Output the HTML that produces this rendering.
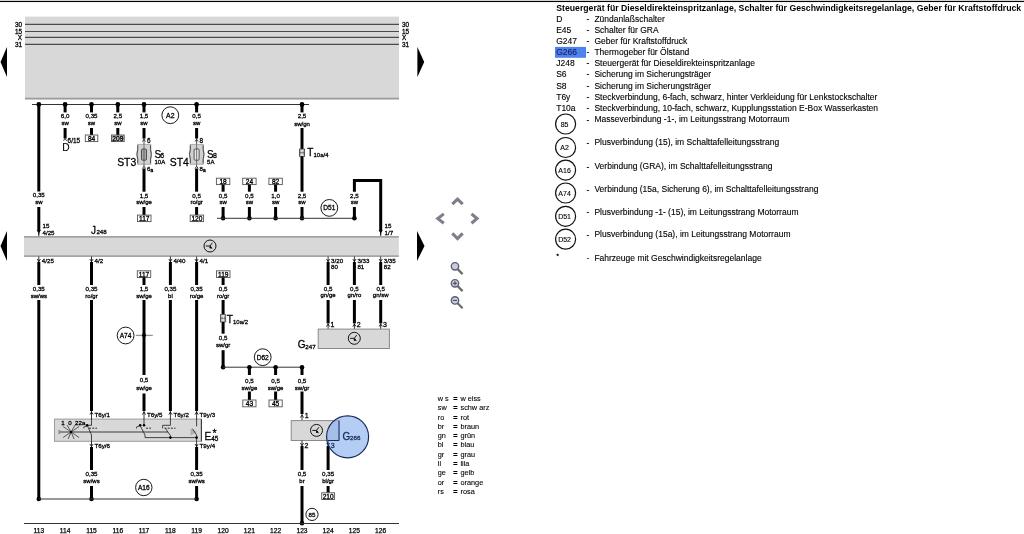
<!DOCTYPE html>
<html><head><meta charset="utf-8"><style>
html,body{margin:0;padding:0;background:#fff;overflow:hidden}
svg{display:block;font-family:"Liberation Sans", sans-serif;will-change:transform}
</style></head><body>
<svg width="1024" height="534" viewBox="0 0 1024 534">
<rect x="0" y="0" width="1024" height="1" fill="#d4d4d4" stroke="none" stroke-width="1"/>
<rect x="0" y="1" width="1024" height="1.05" fill="#000" stroke="none" stroke-width="1"/>
<rect x="25" y="16.6" width="374" height="82.5" fill="#d8d8d8" stroke="none" stroke-width="1"/>
<line x1="25" y1="98.6" x2="399" y2="98.6" stroke="#9a9a9a" stroke-width="1.6" stroke-linecap="butt"/>
<line x1="25" y1="24.4" x2="399" y2="24.4" stroke="#4a4a4a" stroke-width="1.1" stroke-linecap="butt"/>
<text x="22" y="26.7" font-size="6.4" text-anchor="end" font-weight="normal" fill="#000" stroke="#000" stroke-width="0.28" >30</text>
<text x="402" y="26.7" font-size="6.4" text-anchor="start" font-weight="normal" fill="#000" stroke="#000" stroke-width="0.28" >30</text>
<line x1="25" y1="31.5" x2="399" y2="31.5" stroke="#4a4a4a" stroke-width="1.1" stroke-linecap="butt"/>
<text x="22" y="33.8" font-size="6.4" text-anchor="end" font-weight="normal" fill="#000" stroke="#000" stroke-width="0.28" >15</text>
<text x="402" y="33.8" font-size="6.4" text-anchor="start" font-weight="normal" fill="#000" stroke="#000" stroke-width="0.28" >15</text>
<line x1="25" y1="37.4" x2="399" y2="37.4" stroke="#4a4a4a" stroke-width="1.1" stroke-linecap="butt"/>
<text x="22" y="39.7" font-size="6.4" text-anchor="end" font-weight="normal" fill="#000" stroke="#000" stroke-width="0.28" >X</text>
<text x="402" y="39.7" font-size="6.4" text-anchor="start" font-weight="normal" fill="#000" stroke="#000" stroke-width="0.28" >X</text>
<line x1="25" y1="44.4" x2="399" y2="44.4" stroke="#4a4a4a" stroke-width="1.1" stroke-linecap="butt"/>
<text x="22" y="46.7" font-size="6.4" text-anchor="end" font-weight="normal" fill="#000" stroke="#000" stroke-width="0.28" >31</text>
<text x="402" y="46.7" font-size="6.4" text-anchor="start" font-weight="normal" fill="#000" stroke="#000" stroke-width="0.28" >31</text>
<path d="M0.5,62 L7.0,47.1 L7.0,76.9 Z" fill="#000"/>
<path d="M424.2,62 L417.4,47.1 L417.4,76.9 Z" fill="#000"/>
<line x1="32" y1="104.5" x2="309" y2="104.5" stroke="#333" stroke-width="1" stroke-linecap="butt"/>
<circle cx="38.8" cy="104.5" r="2.4" fill="#000"/>
<line x1="38.8" y1="104.5" x2="38.8" y2="191.5" stroke="#000" stroke-width="3.0" stroke-linecap="butt"/>
<text x="38.8" y="197.13" font-size="6.2" text-anchor="middle" font-weight="normal" fill="#000" stroke="#000" stroke-width="0.28" >0,35</text>
<text x="38.8" y="203.78" font-size="6.0" text-anchor="middle" font-weight="normal" fill="#000" stroke="#000" stroke-width="0.3" >sw</text>
<line x1="38.8" y1="207" x2="38.8" y2="230.5" stroke="#000" stroke-width="3.0" stroke-linecap="butt"/>
<line x1="38.8" y1="230.5" x2="38.8" y2="236.5" stroke="#000" stroke-width="0.8" stroke-linecap="butt"/>
<path d="M37.3,230.4 L38.8,232.6 L40.3,230.4 Z M38.8,232 L38.8,234.6" fill="#000" stroke="#000" stroke-width="1"/>
<text x="42.5" y="228.03" font-size="6.2" text-anchor="start" font-weight="normal" fill="#000" stroke="#000" stroke-width="0.28" >15</text>
<text x="42.5" y="234.53" font-size="6.2" text-anchor="start" font-weight="normal" fill="#000" stroke="#000" stroke-width="0.28" >4/25</text>
<circle cx="65.1" cy="104.5" r="2.4" fill="#000"/>
<line x1="65.1" y1="104.5" x2="65.1" y2="112.4" stroke="#000" stroke-width="3.0" stroke-linecap="butt"/>
<text x="65.1" y="118.23" font-size="6.2" text-anchor="middle" font-weight="normal" fill="#000" stroke="#000" stroke-width="0.28" >6,0</text>
<text x="65.1" y="125.18" font-size="6.0" text-anchor="middle" font-weight="normal" fill="#000" stroke="#000" stroke-width="0.3" >sw</text>
<line x1="65.1" y1="128" x2="65.1" y2="138.6" stroke="#000" stroke-width="3.0" stroke-linecap="butt"/>
<path d="M63.49999999999999,140.8 Q65.1,137.4 66.69999999999999,140.8" fill="none" stroke="#000" stroke-width="0.8"/>
<text x="67.6" y="142.9" font-size="6.4" text-anchor="start" font-weight="normal" fill="#000" stroke="#000" stroke-width="0.28" >6/15</text>
<text x="62.3" y="151.27" font-size="10.2" text-anchor="start" font-weight="normal" fill="#000" stroke="#000" stroke-width="0.1" >D</text>
<circle cx="91.5" cy="104.5" r="2.4" fill="#000"/>
<line x1="91.5" y1="104.5" x2="91.5" y2="112.4" stroke="#000" stroke-width="3.0" stroke-linecap="butt"/>
<text x="91.5" y="118.23" font-size="6.2" text-anchor="middle" font-weight="normal" fill="#000" stroke="#000" stroke-width="0.28" >0,35</text>
<text x="91.5" y="125.18" font-size="6.0" text-anchor="middle" font-weight="normal" fill="#000" stroke="#000" stroke-width="0.3" >sw</text>
<line x1="91.5" y1="128" x2="91.5" y2="135" stroke="#000" stroke-width="3.0" stroke-linecap="butt"/>
<rect x="85.3" y="135" width="12.5" height="6.599999999999994" fill="#fff" stroke="#555" stroke-width="0.9"/>
<text x="91.55" y="140.78" font-size="6.6" text-anchor="middle" font-weight="normal" fill="#000" stroke="#000" stroke-width="0.3" >84</text>
<circle cx="117.8" cy="104.5" r="2.4" fill="#000"/>
<line x1="117.8" y1="104.5" x2="117.8" y2="112.4" stroke="#000" stroke-width="3.0" stroke-linecap="butt"/>
<text x="117.8" y="118.23" font-size="6.2" text-anchor="middle" font-weight="normal" fill="#000" stroke="#000" stroke-width="0.28" >2,5</text>
<text x="117.8" y="125.18" font-size="6.0" text-anchor="middle" font-weight="normal" fill="#000" stroke="#000" stroke-width="0.3" >sw</text>
<line x1="117.8" y1="128" x2="117.8" y2="135" stroke="#000" stroke-width="3.0" stroke-linecap="butt"/>
<rect x="111.5" y="135" width="12.700000000000003" height="6.599999999999994" fill="#c6c6c6" stroke="#555" stroke-width="0.9"/>
<text x="117.85" y="140.78" font-size="6.6" text-anchor="middle" font-weight="normal" fill="#000" stroke="#000" stroke-width="0.3" >209</text>
<circle cx="144.0" cy="104.5" r="2.4" fill="#000"/>
<line x1="144.0" y1="104.5" x2="144.0" y2="112.4" stroke="#000" stroke-width="3.0" stroke-linecap="butt"/>
<text x="144.0" y="118.23" font-size="6.2" text-anchor="middle" font-weight="normal" fill="#000" stroke="#000" stroke-width="0.28" >1,5</text>
<text x="144.0" y="125.18" font-size="6.0" text-anchor="middle" font-weight="normal" fill="#000" stroke="#000" stroke-width="0.3" >sw</text>
<line x1="144.0" y1="128" x2="144.0" y2="138.6" stroke="#000" stroke-width="3.0" stroke-linecap="butt"/>
<line x1="144.0" y1="138.6" x2="144.0" y2="166" stroke="#000" stroke-width="0.7" stroke-linecap="butt"/>
<path d="M142.5,141.6 L144.0,139.2 L145.5,141.6" fill="none" stroke="#000" stroke-width="0.7"/>
<text x="147.0" y="142.6" font-size="6.4" text-anchor="start" font-weight="normal" fill="#000" stroke="#000" stroke-width="0.28" >6</text>
<path d="M137.5,144.4 L150.8,144.4 L150.8,149.4 Q152.4,154.35000000000002 150.8,159.3 L150.8,164.3 L137.5,164.3 L137.5,159.3 Q135.9,154.35000000000002 137.5,149.4 Z" fill="#d2d2d2" stroke="#9a9a9a" stroke-width="0.8"/>
<path d="M137.8,145.4 L137.8,149.4 Q136.1,154.35000000000002 137.8,159.3 L137.8,163.3 M150.5,145.4 L150.5,149.4 Q152.20000000000002,154.35000000000002 150.5,159.3 L150.5,163.3" fill="none" stroke="#333" stroke-width="0.8"/>
<rect x="141.5" y="149" width="5" height="11.2" rx="1" fill="#a8a8a8" stroke="#333" stroke-width="0.8"/>
<line x1="144.0" y1="144.4" x2="144.0" y2="164.3" stroke="#333" stroke-width="0.6" stroke-linecap="butt"/>
<path d="M142.5,168.4 L144.0,166.2 L145.5,168.4" fill="none" stroke="#000" stroke-width="0.8"/>
<text x="147.0" y="171.43" font-size="6.2" text-anchor="start" font-weight="normal" fill="#000" stroke="#000" stroke-width="0.28" >6</text>
<text x="150.4" y="171.93" font-size="4.8" text-anchor="start" font-weight="normal" fill="#000" stroke="#000" stroke-width="0.35" >a</text>
<text x="154.4" y="157.8" font-size="10" text-anchor="start" font-weight="normal" fill="#000" stroke="#000" stroke-width="0.25" >S</text>
<text x="160.3" y="158.12" font-size="7" text-anchor="start" font-weight="normal" fill="#000" stroke="#000" stroke-width="0.28" >6</text>
<text x="154.5" y="164.46" font-size="6" text-anchor="start" font-weight="normal" fill="#000" stroke="#000" stroke-width="0.28" >10A</text>
<text x="117.2" y="166.44" font-size="10.4" text-anchor="start" font-weight="normal" fill="#000" stroke="#000" stroke-width="0.28" >ST3</text>
<line x1="144.0" y1="168.5" x2="144.0" y2="191.7" stroke="#000" stroke-width="3.0" stroke-linecap="butt"/>
<text x="144.0" y="197.73" font-size="6.2" text-anchor="middle" font-weight="normal" fill="#000" stroke="#000" stroke-width="0.28" >1,5</text>
<text x="144.0" y="204.38" font-size="6.0" text-anchor="middle" font-weight="normal" fill="#000" stroke="#000" stroke-width="0.3" >sw/ge</text>
<line x1="144.0" y1="207" x2="144.0" y2="215.1" stroke="#000" stroke-width="3.0" stroke-linecap="butt"/>
<rect x="137.5" y="215.1" width="13.5" height="6.5" fill="#fff" stroke="#555" stroke-width="0.9"/>
<text x="144.25" y="220.83" font-size="6.6" text-anchor="middle" font-weight="normal" fill="#000" stroke="#000" stroke-width="0.3" >117</text>
<circle cx="170.3" cy="115.2" r="8.4" fill="#fff" stroke="#000" stroke-width="0.9"/>
<text x="170.3" y="117.68" font-size="6.9" text-anchor="middle" font-weight="normal" fill="#000" stroke="#000" stroke-width="0.28" >A2</text>
<circle cx="196.6" cy="104.5" r="2.4" fill="#000"/>
<line x1="196.6" y1="104.5" x2="196.6" y2="112.4" stroke="#000" stroke-width="3.0" stroke-linecap="butt"/>
<text x="196.6" y="118.23" font-size="6.2" text-anchor="middle" font-weight="normal" fill="#000" stroke="#000" stroke-width="0.28" >0,5</text>
<text x="196.6" y="125.18" font-size="6.0" text-anchor="middle" font-weight="normal" fill="#000" stroke="#000" stroke-width="0.3" >sw</text>
<line x1="196.6" y1="128" x2="196.6" y2="138.6" stroke="#000" stroke-width="3.0" stroke-linecap="butt"/>
<line x1="196.6" y1="138.6" x2="196.6" y2="166" stroke="#000" stroke-width="0.7" stroke-linecap="butt"/>
<path d="M195.1,141.6 L196.6,139.2 L198.1,141.6" fill="none" stroke="#000" stroke-width="0.7"/>
<text x="199.6" y="142.6" font-size="6.4" text-anchor="start" font-weight="normal" fill="#000" stroke="#000" stroke-width="0.28" >8</text>
<path d="M190.1,144.4 L203.4,144.4 L203.4,149.4 Q205.0,154.35000000000002 203.4,159.3 L203.4,164.3 L190.1,164.3 L190.1,159.3 Q188.5,154.35000000000002 190.1,149.4 Z" fill="#d2d2d2" stroke="#9a9a9a" stroke-width="0.8"/>
<path d="M190.4,145.4 L190.4,149.4 Q188.7,154.35000000000002 190.4,159.3 L190.4,163.3 M203.1,145.4 L203.1,149.4 Q204.8,154.35000000000002 203.1,159.3 L203.1,163.3" fill="none" stroke="#333" stroke-width="0.8"/>
<rect x="194.1" y="149" width="5" height="11.2" rx="1" fill="#e8e8e8" stroke="#333" stroke-width="0.8"/>
<line x1="196.6" y1="144.4" x2="196.6" y2="164.3" stroke="#333" stroke-width="0.6" stroke-linecap="butt"/>
<path d="M195.1,168.4 L196.6,166.2 L198.1,168.4" fill="none" stroke="#000" stroke-width="0.8"/>
<text x="199.6" y="171.43" font-size="6.2" text-anchor="start" font-weight="normal" fill="#000" stroke="#000" stroke-width="0.28" >8</text>
<text x="203.0" y="171.93" font-size="4.8" text-anchor="start" font-weight="normal" fill="#000" stroke="#000" stroke-width="0.35" >a</text>
<text x="207.0" y="157.8" font-size="10" text-anchor="start" font-weight="normal" fill="#000" stroke="#000" stroke-width="0.25" >S</text>
<text x="212.9" y="158.12" font-size="7" text-anchor="start" font-weight="normal" fill="#000" stroke="#000" stroke-width="0.28" >8</text>
<text x="207.1" y="164.46" font-size="6" text-anchor="start" font-weight="normal" fill="#000" stroke="#000" stroke-width="0.28" >5A</text>
<text x="169.8" y="166.44" font-size="10.4" text-anchor="start" font-weight="normal" fill="#000" stroke="#000" stroke-width="0.28" >ST4</text>
<line x1="196.6" y1="168.5" x2="196.6" y2="191.7" stroke="#000" stroke-width="3.0" stroke-linecap="butt"/>
<text x="196.6" y="197.73" font-size="6.2" text-anchor="middle" font-weight="normal" fill="#000" stroke="#000" stroke-width="0.28" >0,5</text>
<text x="196.6" y="204.38" font-size="6.0" text-anchor="middle" font-weight="normal" fill="#000" stroke="#000" stroke-width="0.3" >ro/gr</text>
<line x1="196.6" y1="207" x2="196.6" y2="215.1" stroke="#000" stroke-width="3.0" stroke-linecap="butt"/>
<rect x="190.2" y="215.1" width="13.400000000000006" height="6.5" fill="#fff" stroke="#555" stroke-width="0.9"/>
<text x="196.89999999999998" y="220.83" font-size="6.6" text-anchor="middle" font-weight="normal" fill="#000" stroke="#000" stroke-width="0.3" >120</text>
<circle cx="302.0" cy="104.5" r="2.4" fill="#000"/>
<line x1="302.0" y1="104.5" x2="302.0" y2="112.4" stroke="#000" stroke-width="3.0" stroke-linecap="butt"/>
<text x="302.0" y="118.33" font-size="6.2" text-anchor="middle" font-weight="normal" fill="#000" stroke="#000" stroke-width="0.28" >2,5</text>
<text x="302.0" y="125.58" font-size="6.0" text-anchor="middle" font-weight="normal" fill="#000" stroke="#000" stroke-width="0.3" >sw/gn</text>
<line x1="302.0" y1="128" x2="302.0" y2="149.2" stroke="#000" stroke-width="3.0" stroke-linecap="butt"/>
<rect x="299.4" y="149.1" width="5.2" height="7.2" fill="#fff" stroke="#333" stroke-width="0.8"/>
<line x1="300.8" y1="150.1" x2="300.8" y2="155.29999999999998" stroke="#333" stroke-width="0.6" stroke-linecap="butt"/>
<line x1="303.2" y1="150.1" x2="303.2" y2="155.29999999999998" stroke="#333" stroke-width="0.6" stroke-linecap="butt"/>
<line x1="299.4" y1="152.7" x2="304.6" y2="152.7" stroke="#333" stroke-width="0.6" stroke-linecap="butt"/>
<text x="307.3" y="156.3" font-size="10" text-anchor="start" font-weight="normal" fill="#000" stroke="#000" stroke-width="0.28" >T</text>
<text x="313.5" y="157.16" font-size="6" text-anchor="start" font-weight="normal" fill="#000" stroke="#000" stroke-width="0.28" >10a/4</text>
<line x1="302.0" y1="156.3" x2="302.0" y2="191.7" stroke="#000" stroke-width="3.0" stroke-linecap="butt"/>
<text x="302.0" y="197.73" font-size="6.2" text-anchor="middle" font-weight="normal" fill="#000" stroke="#000" stroke-width="0.28" >2,5</text>
<text x="302.0" y="204.38" font-size="6.0" text-anchor="middle" font-weight="normal" fill="#000" stroke="#000" stroke-width="0.3" >sw</text>
<line x1="302.0" y1="207" x2="302.0" y2="218.3" stroke="#000" stroke-width="3.0" stroke-linecap="butt"/>
<circle cx="302.0" cy="218.3" r="2.3" fill="#000"/>
<rect x="216.4" y="178.2" width="13.399999999999977" height="6.400000000000006" fill="#fff" stroke="#555" stroke-width="0.9"/>
<text x="223.1" y="183.88" font-size="6.6" text-anchor="middle" font-weight="normal" fill="#000" stroke="#000" stroke-width="0.3" >18</text>
<line x1="223.1" y1="184.6" x2="223.1" y2="191.7" stroke="#000" stroke-width="3.0" stroke-linecap="butt"/>
<text x="223.1" y="197.73" font-size="6.2" text-anchor="middle" font-weight="normal" fill="#000" stroke="#000" stroke-width="0.28" >0,5</text>
<text x="223.1" y="204.38" font-size="6.0" text-anchor="middle" font-weight="normal" fill="#000" stroke="#000" stroke-width="0.3" >sw</text>
<line x1="223.1" y1="207" x2="223.1" y2="218.3" stroke="#000" stroke-width="3.0" stroke-linecap="butt"/>
<circle cx="223.1" cy="218.3" r="2.3" fill="#000"/>
<rect x="242.70000000000002" y="178.2" width="13.400000000000006" height="6.400000000000006" fill="#fff" stroke="#555" stroke-width="0.9"/>
<text x="249.40000000000003" y="183.88" font-size="6.6" text-anchor="middle" font-weight="normal" fill="#000" stroke="#000" stroke-width="0.3" >24</text>
<line x1="249.4" y1="184.6" x2="249.4" y2="191.7" stroke="#000" stroke-width="3.0" stroke-linecap="butt"/>
<text x="249.4" y="197.73" font-size="6.2" text-anchor="middle" font-weight="normal" fill="#000" stroke="#000" stroke-width="0.28" >0,5</text>
<text x="249.4" y="204.38" font-size="6.0" text-anchor="middle" font-weight="normal" fill="#000" stroke="#000" stroke-width="0.3" >sw</text>
<line x1="249.4" y1="207" x2="249.4" y2="218.3" stroke="#000" stroke-width="3.0" stroke-linecap="butt"/>
<circle cx="249.4" cy="218.3" r="2.3" fill="#000"/>
<rect x="268.90000000000003" y="178.2" width="13.399999999999977" height="6.400000000000006" fill="#fff" stroke="#555" stroke-width="0.9"/>
<text x="275.6" y="183.88" font-size="6.6" text-anchor="middle" font-weight="normal" fill="#000" stroke="#000" stroke-width="0.3" >82</text>
<line x1="275.6" y1="184.6" x2="275.6" y2="191.7" stroke="#000" stroke-width="3.0" stroke-linecap="butt"/>
<text x="275.6" y="197.73" font-size="6.2" text-anchor="middle" font-weight="normal" fill="#000" stroke="#000" stroke-width="0.28" >1,0</text>
<text x="275.6" y="204.38" font-size="6.0" text-anchor="middle" font-weight="normal" fill="#000" stroke="#000" stroke-width="0.3" >sw</text>
<line x1="275.6" y1="207" x2="275.6" y2="218.3" stroke="#000" stroke-width="3.0" stroke-linecap="butt"/>
<circle cx="275.6" cy="218.3" r="2.3" fill="#000"/>
<line x1="217" y1="218.3" x2="354.5" y2="218.3" stroke="#333" stroke-width="1" stroke-linecap="butt"/>
<circle cx="329.3" cy="207.9" r="8.4" fill="#fff" stroke="#000" stroke-width="0.9"/>
<text x="329.3" y="210.28" font-size="6.6" text-anchor="middle" font-weight="normal" fill="#000" stroke="#000" stroke-width="0.28" >D51</text>
<circle cx="354.4" cy="218.3" r="2.3" fill="#000"/>
<line x1="354.4" y1="207" x2="354.4" y2="218.3" stroke="#000" stroke-width="3.0" stroke-linecap="butt"/>
<text x="354.4" y="197.73" font-size="6.2" text-anchor="middle" font-weight="normal" fill="#000" stroke="#000" stroke-width="0.28" >2,5</text>
<text x="354.4" y="204.38" font-size="6.0" text-anchor="middle" font-weight="normal" fill="#000" stroke="#000" stroke-width="0.3" >sw</text>
<path d="M354.4,191.7 L354.4,180.5 L380.7,180.5 L380.7,230.5" fill="none" stroke="#000" stroke-width="3.0"/>
<line x1="380.7" y1="230.5" x2="380.7" y2="236.5" stroke="#000" stroke-width="0.8" stroke-linecap="butt"/>
<path d="M379.2,230.4 L380.7,232.6 L382.2,230.4 Z M380.7,232 L380.7,234.6" fill="#000" stroke="#000" stroke-width="1"/>
<text x="384.5" y="228.03" font-size="6.2" text-anchor="start" font-weight="normal" fill="#000" stroke="#000" stroke-width="0.28" >15</text>
<text x="384.5" y="234.53" font-size="6.2" text-anchor="start" font-weight="normal" fill="#000" stroke="#000" stroke-width="0.28" >1/7</text>
<rect x="24" y="236.5" width="374.8" height="19.8" fill="#d8d8d8" stroke="none" stroke-width="1"/>
<line x1="24" y1="236.9" x2="398.8" y2="236.9" stroke="#8a8a8a" stroke-width="1.1" stroke-linecap="butt"/>
<line x1="24" y1="256.1" x2="398.8" y2="256.1" stroke="#8a8a8a" stroke-width="1.1" stroke-linecap="butt"/>
<circle cx="210" cy="246" r="6" fill="none" stroke="#111" stroke-width="1"/>
<path d="M205.8,246 L210,246 L212.4,242.8 M210,246 L212,248.8" fill="none" stroke="#000" stroke-width="0.9"/>
<circle cx="210.5" cy="247.5" r="1.1" fill="#000"/>
<text x="91" y="233.9" font-size="10" text-anchor="start" font-weight="normal" fill="#000" stroke="#000" stroke-width="0.28" >J</text>
<text x="96.4" y="234.43" font-size="6.2" text-anchor="start" font-weight="normal" fill="#000" stroke="#000" stroke-width="0.28" >248</text>
<path d="M0.5,246 L7.0,231 L7.0,261 Z" fill="#000"/>
<path d="M424.5,246 L417.0,231 L417.0,261 Z" fill="#000"/>
<line x1="38.8" y1="256.5" x2="38.8" y2="262" stroke="#000" stroke-width="0.8" stroke-linecap="butt"/>
<path d="M37.199999999999996,259.0 L38.8,261.6 L40.4,259.0" fill="none" stroke="#000" stroke-width="0.8"/>
<text x="41.8" y="262.73" font-size="6.2" text-anchor="start" font-weight="normal" fill="#000" stroke="#000" stroke-width="0.28" >4/25</text>
<line x1="38.8" y1="262" x2="38.8" y2="285" stroke="#000" stroke-width="3.0" stroke-linecap="butt"/>
<text x="38.8" y="291.23" font-size="6.2" text-anchor="middle" font-weight="normal" fill="#000" stroke="#000" stroke-width="0.28" >0,35</text>
<text x="38.8" y="297.58" font-size="6.0" text-anchor="middle" font-weight="normal" fill="#000" stroke="#000" stroke-width="0.3" >sw/ws</text>
<line x1="38.8" y1="300" x2="38.8" y2="499" stroke="#000" stroke-width="3.0" stroke-linecap="butt"/>
<circle cx="38.8" cy="499" r="2.3" fill="#000"/>
<line x1="91.5" y1="256.5" x2="91.5" y2="262" stroke="#000" stroke-width="0.8" stroke-linecap="butt"/>
<path d="M89.9,259.0 L91.5,261.6 L93.1,259.0" fill="none" stroke="#000" stroke-width="0.8"/>
<text x="94.5" y="262.73" font-size="6.2" text-anchor="start" font-weight="normal" fill="#000" stroke="#000" stroke-width="0.28" >4/2</text>
<line x1="91.5" y1="262" x2="91.5" y2="285" stroke="#000" stroke-width="3.0" stroke-linecap="butt"/>
<text x="91.5" y="291.23" font-size="6.2" text-anchor="middle" font-weight="normal" fill="#000" stroke="#000" stroke-width="0.28" >0,35</text>
<text x="91.5" y="297.58" font-size="6.0" text-anchor="middle" font-weight="normal" fill="#000" stroke="#000" stroke-width="0.3" >ro/gr</text>
<line x1="91.5" y1="300" x2="91.5" y2="411" stroke="#000" stroke-width="3.0" stroke-linecap="butt"/>
<rect x="137.3" y="270.8" width="13.399999999999977" height="6.699999999999989" fill="#fff" stroke="#555" stroke-width="0.9"/>
<text x="144.0" y="276.63" font-size="6.6" text-anchor="middle" font-weight="normal" fill="#000" stroke="#000" stroke-width="0.3" >117</text>
<line x1="144.0" y1="277.5" x2="144.0" y2="285" stroke="#000" stroke-width="3.0" stroke-linecap="butt"/>
<text x="144.0" y="291.23" font-size="6.2" text-anchor="middle" font-weight="normal" fill="#000" stroke="#000" stroke-width="0.28" >1,5</text>
<text x="144.0" y="297.58" font-size="6.0" text-anchor="middle" font-weight="normal" fill="#000" stroke="#000" stroke-width="0.3" >sw/ge</text>
<line x1="144.0" y1="300" x2="144.0" y2="375" stroke="#000" stroke-width="3.0" stroke-linecap="butt"/>
<text x="144.0" y="382.43" font-size="6.2" text-anchor="middle" font-weight="normal" fill="#000" stroke="#000" stroke-width="0.28" >0,5</text>
<text x="144.0" y="389.58" font-size="6.0" text-anchor="middle" font-weight="normal" fill="#000" stroke="#000" stroke-width="0.3" >sw/ge</text>
<line x1="144.0" y1="393.5" x2="144.0" y2="411" stroke="#000" stroke-width="3.0" stroke-linecap="butt"/>
<line x1="135.8" y1="335.3" x2="152.8" y2="335.3" stroke="#555" stroke-width="0.8" stroke-linecap="butt"/>
<circle cx="144.0" cy="335.3" r="2" fill="#000"/>
<circle cx="125.6" cy="335.5" r="8.4" fill="#fff" stroke="#000" stroke-width="0.9"/>
<text x="125.6" y="337.88" font-size="6.6" text-anchor="middle" font-weight="normal" fill="#000" stroke="#000" stroke-width="0.28" >A74</text>
<line x1="170.4" y1="256.5" x2="170.4" y2="262" stroke="#000" stroke-width="0.8" stroke-linecap="butt"/>
<path d="M168.8,259.0 L170.4,261.6 L172.0,259.0" fill="none" stroke="#000" stroke-width="0.8"/>
<text x="173.4" y="262.73" font-size="6.2" text-anchor="start" font-weight="normal" fill="#000" stroke="#000" stroke-width="0.28" >4/40</text>
<line x1="170.4" y1="262" x2="170.4" y2="285" stroke="#000" stroke-width="3.0" stroke-linecap="butt"/>
<text x="170.4" y="291.23" font-size="6.2" text-anchor="middle" font-weight="normal" fill="#000" stroke="#000" stroke-width="0.28" >0,35</text>
<text x="170.4" y="297.58" font-size="6.0" text-anchor="middle" font-weight="normal" fill="#000" stroke="#000" stroke-width="0.3" >bl</text>
<line x1="170.4" y1="300" x2="170.4" y2="411" stroke="#000" stroke-width="3.0" stroke-linecap="butt"/>
<line x1="196.6" y1="256.5" x2="196.6" y2="262" stroke="#000" stroke-width="0.8" stroke-linecap="butt"/>
<path d="M195.0,259.0 L196.6,261.6 L198.2,259.0" fill="none" stroke="#000" stroke-width="0.8"/>
<text x="199.6" y="262.73" font-size="6.2" text-anchor="start" font-weight="normal" fill="#000" stroke="#000" stroke-width="0.28" >4/1</text>
<line x1="196.6" y1="262" x2="196.6" y2="285" stroke="#000" stroke-width="3.0" stroke-linecap="butt"/>
<text x="196.6" y="291.23" font-size="6.2" text-anchor="middle" font-weight="normal" fill="#000" stroke="#000" stroke-width="0.28" >0,35</text>
<text x="196.6" y="297.58" font-size="6.0" text-anchor="middle" font-weight="normal" fill="#000" stroke="#000" stroke-width="0.3" >ro/ge</text>
<line x1="196.6" y1="300" x2="196.6" y2="411" stroke="#000" stroke-width="3.0" stroke-linecap="butt"/>
<rect x="216.5" y="270.8" width="13.5" height="6.699999999999989" fill="#fff" stroke="#555" stroke-width="0.9"/>
<text x="223.25" y="276.63" font-size="6.6" text-anchor="middle" font-weight="normal" fill="#000" stroke="#000" stroke-width="0.3" >119</text>
<line x1="223.1" y1="277.5" x2="223.1" y2="285" stroke="#000" stroke-width="3.0" stroke-linecap="butt"/>
<text x="223.1" y="291.23" font-size="6.2" text-anchor="middle" font-weight="normal" fill="#000" stroke="#000" stroke-width="0.28" >0,5</text>
<text x="223.1" y="297.58" font-size="6.0" text-anchor="middle" font-weight="normal" fill="#000" stroke="#000" stroke-width="0.3" >ro/gr</text>
<line x1="223.1" y1="300" x2="223.1" y2="314.5" stroke="#000" stroke-width="3.0" stroke-linecap="butt"/>
<rect x="220.5" y="314.7" width="5.2" height="7.2" fill="#fff" stroke="#333" stroke-width="0.8"/>
<line x1="221.9" y1="315.7" x2="221.9" y2="320.90000000000003" stroke="#333" stroke-width="0.6" stroke-linecap="butt"/>
<line x1="224.29999999999998" y1="315.7" x2="224.29999999999998" y2="320.90000000000003" stroke="#333" stroke-width="0.6" stroke-linecap="butt"/>
<line x1="220.5" y1="318.3" x2="225.7" y2="318.3" stroke="#333" stroke-width="0.6" stroke-linecap="butt"/>
<text x="226.8" y="322.9" font-size="10" text-anchor="start" font-weight="normal" fill="#000" stroke="#000" stroke-width="0.28" >T</text>
<text x="233" y="323.76" font-size="6" text-anchor="start" font-weight="normal" fill="#000" stroke="#000" stroke-width="0.28" >10a/2</text>
<line x1="223.1" y1="322" x2="223.1" y2="333.7" stroke="#000" stroke-width="3.0" stroke-linecap="butt"/>
<text x="223.1" y="340.33" font-size="6.2" text-anchor="middle" font-weight="normal" fill="#000" stroke="#000" stroke-width="0.28" >0,5</text>
<text x="223.1" y="346.78" font-size="6.0" text-anchor="middle" font-weight="normal" fill="#000" stroke="#000" stroke-width="0.3" >sw/gr</text>
<line x1="223.1" y1="350.2" x2="223.1" y2="367.2" stroke="#000" stroke-width="3.0" stroke-linecap="butt"/>
<circle cx="223.1" cy="367.2" r="2.3" fill="#000"/>
<line x1="223" y1="367.2" x2="302" y2="367.2" stroke="#333" stroke-width="1" stroke-linecap="butt"/>
<circle cx="262.7" cy="357.2" r="8.4" fill="#fff" stroke="#000" stroke-width="0.9"/>
<text x="262.7" y="359.58" font-size="6.6" text-anchor="middle" font-weight="normal" fill="#000" stroke="#000" stroke-width="0.28" >D62</text>
<circle cx="249.4" cy="367.2" r="2.3" fill="#000"/>
<line x1="249.4" y1="367.2" x2="249.4" y2="375" stroke="#000" stroke-width="3.0" stroke-linecap="butt"/>
<text x="249.4" y="382.53" font-size="6.2" text-anchor="middle" font-weight="normal" fill="#000" stroke="#000" stroke-width="0.28" >0,5</text>
<text x="249.4" y="389.58" font-size="6.0" text-anchor="middle" font-weight="normal" fill="#000" stroke="#000" stroke-width="0.3" >sw/ge</text>
<line x1="249.4" y1="391.5" x2="249.4" y2="400" stroke="#000" stroke-width="3.0" stroke-linecap="butt"/>
<rect x="242.8" y="400" width="13.199999999999989" height="6.800000000000011" fill="#fff" stroke="#555" stroke-width="0.9"/>
<text x="249.4" y="405.88" font-size="6.6" text-anchor="middle" font-weight="normal" fill="#000" stroke="#000" stroke-width="0.3" >43</text>
<circle cx="275.6" cy="367.2" r="2.3" fill="#000"/>
<line x1="275.6" y1="367.2" x2="275.6" y2="375" stroke="#000" stroke-width="3.0" stroke-linecap="butt"/>
<text x="275.6" y="382.53" font-size="6.2" text-anchor="middle" font-weight="normal" fill="#000" stroke="#000" stroke-width="0.28" >0,5</text>
<text x="275.6" y="389.58" font-size="6.0" text-anchor="middle" font-weight="normal" fill="#000" stroke="#000" stroke-width="0.3" >sw/ge</text>
<line x1="275.6" y1="391.5" x2="275.6" y2="400" stroke="#000" stroke-width="3.0" stroke-linecap="butt"/>
<rect x="269.0" y="400" width="13.200000000000045" height="6.800000000000011" fill="#fff" stroke="#555" stroke-width="0.9"/>
<text x="275.6" y="405.88" font-size="6.6" text-anchor="middle" font-weight="normal" fill="#000" stroke="#000" stroke-width="0.3" >45</text>
<circle cx="302.0" cy="367.2" r="2.3" fill="#000"/>
<line x1="302.0" y1="367.2" x2="302.0" y2="375" stroke="#000" stroke-width="3.0" stroke-linecap="butt"/>
<text x="302.0" y="382.53" font-size="6.2" text-anchor="middle" font-weight="normal" fill="#000" stroke="#000" stroke-width="0.28" >0,5</text>
<text x="302.0" y="389.58" font-size="6.0" text-anchor="middle" font-weight="normal" fill="#000" stroke="#000" stroke-width="0.3" >sw/gr</text>
<line x1="302.0" y1="391.5" x2="302.0" y2="414" stroke="#000" stroke-width="3.0" stroke-linecap="butt"/>
<line x1="302.0" y1="414" x2="302.0" y2="420.6" stroke="#000" stroke-width="0.8" stroke-linecap="butt"/>
<path d="M300.4,417.6 L302.0,415 L303.6,417.6" fill="none" stroke="#000" stroke-width="0.8"/>
<text x="304.8" y="417.52" font-size="7.0" text-anchor="start" font-weight="normal" fill="#000" stroke="#000" stroke-width="0.28" >1</text>
<line x1="328.1" y1="256.5" x2="328.1" y2="262" stroke="#000" stroke-width="0.8" stroke-linecap="butt"/>
<path d="M326.5,259.0 L328.1,261.6 L329.70000000000005,259.0" fill="none" stroke="#000" stroke-width="0.8"/>
<text x="331.1" y="262.73" font-size="6.2" text-anchor="start" font-weight="normal" fill="#000" stroke="#000" stroke-width="0.28" >3/20</text>
<text x="331.1" y="268.83" font-size="6.2" text-anchor="start" font-weight="normal" fill="#000" stroke="#000" stroke-width="0.28" >80</text>
<line x1="328.1" y1="262" x2="328.1" y2="285" stroke="#000" stroke-width="3.0" stroke-linecap="butt"/>
<text x="328.1" y="291.23" font-size="6.2" text-anchor="middle" font-weight="normal" fill="#000" stroke="#000" stroke-width="0.28" >0,5</text>
<text x="328.1" y="297.08" font-size="6.0" text-anchor="middle" font-weight="normal" fill="#000" stroke="#000" stroke-width="0.3" >gn/ge</text>
<line x1="328.1" y1="300" x2="328.1" y2="323.4" stroke="#000" stroke-width="3.0" stroke-linecap="butt"/>
<line x1="328.1" y1="323.4" x2="328.1" y2="329" stroke="#000" stroke-width="0.8" stroke-linecap="butt"/>
<path d="M326.5,326.6 L328.1,324 L329.70000000000005,326.6" fill="none" stroke="#000" stroke-width="0.8"/>
<text x="330.5" y="327.12" font-size="7.0" text-anchor="start" font-weight="normal" fill="#000" stroke="#000" stroke-width="0.28" >1</text>
<line x1="354.4" y1="256.5" x2="354.4" y2="262" stroke="#000" stroke-width="0.8" stroke-linecap="butt"/>
<path d="M352.79999999999995,259.0 L354.4,261.6 L356.0,259.0" fill="none" stroke="#000" stroke-width="0.8"/>
<text x="357.4" y="262.73" font-size="6.2" text-anchor="start" font-weight="normal" fill="#000" stroke="#000" stroke-width="0.28" >3/33</text>
<text x="357.4" y="268.83" font-size="6.2" text-anchor="start" font-weight="normal" fill="#000" stroke="#000" stroke-width="0.28" >81</text>
<line x1="354.4" y1="262" x2="354.4" y2="285" stroke="#000" stroke-width="3.0" stroke-linecap="butt"/>
<text x="354.4" y="291.23" font-size="6.2" text-anchor="middle" font-weight="normal" fill="#000" stroke="#000" stroke-width="0.28" >0,5</text>
<text x="354.4" y="297.08" font-size="6.0" text-anchor="middle" font-weight="normal" fill="#000" stroke="#000" stroke-width="0.3" >gn/ro</text>
<line x1="354.4" y1="300" x2="354.4" y2="323.4" stroke="#000" stroke-width="3.0" stroke-linecap="butt"/>
<line x1="354.4" y1="323.4" x2="354.4" y2="329" stroke="#000" stroke-width="0.8" stroke-linecap="butt"/>
<path d="M352.79999999999995,326.6 L354.4,324 L356.0,326.6" fill="none" stroke="#000" stroke-width="0.8"/>
<text x="356.79999999999995" y="327.12" font-size="7.0" text-anchor="start" font-weight="normal" fill="#000" stroke="#000" stroke-width="0.28" >2</text>
<line x1="380.7" y1="256.5" x2="380.7" y2="262" stroke="#000" stroke-width="0.8" stroke-linecap="butt"/>
<path d="M379.09999999999997,259.0 L380.7,261.6 L382.3,259.0" fill="none" stroke="#000" stroke-width="0.8"/>
<text x="383.7" y="262.73" font-size="6.2" text-anchor="start" font-weight="normal" fill="#000" stroke="#000" stroke-width="0.28" >3/35</text>
<text x="383.7" y="268.83" font-size="6.2" text-anchor="start" font-weight="normal" fill="#000" stroke="#000" stroke-width="0.28" >82</text>
<line x1="380.7" y1="262" x2="380.7" y2="285" stroke="#000" stroke-width="3.0" stroke-linecap="butt"/>
<text x="380.7" y="291.23" font-size="6.2" text-anchor="middle" font-weight="normal" fill="#000" stroke="#000" stroke-width="0.28" >0,5</text>
<text x="380.7" y="297.08" font-size="6.0" text-anchor="middle" font-weight="normal" fill="#000" stroke="#000" stroke-width="0.3" >gn/sw</text>
<line x1="380.7" y1="300" x2="380.7" y2="323.4" stroke="#000" stroke-width="3.0" stroke-linecap="butt"/>
<line x1="380.7" y1="323.4" x2="380.7" y2="329" stroke="#000" stroke-width="0.8" stroke-linecap="butt"/>
<path d="M379.09999999999997,326.6 L380.7,324 L382.3,326.6" fill="none" stroke="#000" stroke-width="0.8"/>
<text x="383.09999999999997" y="327.12" font-size="7.0" text-anchor="start" font-weight="normal" fill="#000" stroke="#000" stroke-width="0.28" >3</text>
<rect x="318.2" y="329.1" width="71.2" height="19.4" fill="#d8d8d8" stroke="#8a8a8a" stroke-width="1"/>
<circle cx="354.3" cy="338.3" r="6" fill="none" stroke="#111" stroke-width="1"/>
<path d="M350.1,338.3 L354.3,338.3 L356.7,335.1 M354.3,338.3 L356.3,341.1" fill="none" stroke="#000" stroke-width="0.9"/>
<circle cx="354.8" cy="339.8" r="1.1" fill="#000"/>
<text x="297.8" y="347.9" font-size="10" text-anchor="start" font-weight="normal" fill="#000" stroke="#000" stroke-width="0.28" >G</text>
<text x="305.3" y="348.63" font-size="6.2" text-anchor="start" font-weight="normal" fill="#000" stroke="#000" stroke-width="0.28" >247</text>
<rect x="54.5" y="419.1" width="146.9" height="22.2" fill="#d8d8d8" stroke="#9a9a9a" stroke-width="1"/>
<line x1="201.4" y1="419.1" x2="201.4" y2="441.3" stroke="#333" stroke-width="1" stroke-linecap="butt"/>
<line x1="91.5" y1="411" x2="91.5" y2="419" stroke="#000" stroke-width="0.8" stroke-linecap="butt"/>
<path d="M89.9,414.6 L91.5,412 L93.1,414.6" fill="none" stroke="#000" stroke-width="0.8"/>
<text x="94.5" y="416.83" font-size="6.2" text-anchor="start" font-weight="normal" fill="#000" stroke="#000" stroke-width="0.28" >T6y/1</text>
<line x1="144.0" y1="411" x2="144.0" y2="419" stroke="#000" stroke-width="0.8" stroke-linecap="butt"/>
<path d="M142.4,414.6 L144.0,412 L145.6,414.6" fill="none" stroke="#000" stroke-width="0.8"/>
<text x="147.0" y="416.83" font-size="6.2" text-anchor="start" font-weight="normal" fill="#000" stroke="#000" stroke-width="0.28" >T6y/5</text>
<line x1="170.4" y1="411" x2="170.4" y2="419" stroke="#000" stroke-width="0.8" stroke-linecap="butt"/>
<path d="M168.8,414.6 L170.4,412 L172.0,414.6" fill="none" stroke="#000" stroke-width="0.8"/>
<text x="173.4" y="416.83" font-size="6.2" text-anchor="start" font-weight="normal" fill="#000" stroke="#000" stroke-width="0.28" >T6y/2</text>
<line x1="196.6" y1="411" x2="196.6" y2="419" stroke="#000" stroke-width="0.8" stroke-linecap="butt"/>
<path d="M195.0,414.6 L196.6,412 L198.2,414.6" fill="none" stroke="#000" stroke-width="0.8"/>
<text x="199.6" y="416.83" font-size="6.2" text-anchor="start" font-weight="normal" fill="#000" stroke="#000" stroke-width="0.28" >T9y/3</text>
<line x1="60" y1="432" x2="168" y2="432" stroke="#8a8a8a" stroke-width="2.2" stroke-linecap="butt"/>
<path d="M58.5,429.6 L62.5,432 L58.5,434.4 Z" fill="#8a8a8a"/>
<path d="M190.5,428.6 L197,432 L190.5,435.4 Z" fill="#b0b0b0"/>
<line x1="71.1" y1="432" x2="63.099999999999994" y2="426.5" stroke="#222" stroke-width="0.7" stroke-linecap="butt"/>
<line x1="71.1" y1="432" x2="63.099999999999994" y2="437.5" stroke="#222" stroke-width="0.7" stroke-linecap="butt"/>
<line x1="71.1" y1="432" x2="67.1" y2="425" stroke="#222" stroke-width="0.7" stroke-linecap="butt"/>
<line x1="71.1" y1="432" x2="75.1" y2="425" stroke="#222" stroke-width="0.7" stroke-linecap="butt"/>
<line x1="71.1" y1="432" x2="79.1" y2="437.5" stroke="#222" stroke-width="0.7" stroke-linecap="butt"/>
<line x1="71.1" y1="432" x2="79.1" y2="426.5" stroke="#222" stroke-width="0.7" stroke-linecap="butt"/>
<line x1="71.1" y1="432" x2="68.1" y2="439" stroke="#222" stroke-width="0.7" stroke-linecap="butt"/>
<line x1="71.1" y1="432" x2="74.1" y2="439" stroke="#222" stroke-width="0.7" stroke-linecap="butt"/>
<circle cx="71.1" cy="432" r="1.2" fill="#000"/>
<text x="61.3" y="425.43" font-size="6.2" text-anchor="start" font-weight="normal" fill="#000" stroke="#000" stroke-width="0.28" >1</text>
<text x="68.3" y="425.43" font-size="6.2" text-anchor="start" font-weight="normal" fill="#000" stroke="#000" stroke-width="0.28" >0</text>
<text x="75" y="425.43" font-size="6.2" text-anchor="start" font-weight="normal" fill="#000" stroke="#000" stroke-width="0.28" >22a</text>
<path d="M91.5,419 L91.5,425.3 L87.1,425.3" fill="none" stroke="#111" stroke-width="0.75"/>
<circle cx="87.1" cy="425.3" r="1.25" fill="#000"/>
<path d="M83.8,428.4 L83.8,427 L87.1,426 M87.6,426 L91.5,435 L91.5,441.3" fill="none" stroke="#111" stroke-width="0.75"/>
<path d="M89,428.2 L97,428.2" fill="none" stroke="#111" stroke-width="0.85" stroke-dasharray="2,1.2"/>
<path d="M144.0,419 L144.0,425.3" fill="none" stroke="#111" stroke-width="0.75"/>
<circle cx="140.2" cy="425.3" r="1.25" fill="#000"/>
<circle cx="144.0" cy="425.3" r="1.25" fill="#000"/>
<path d="M136.5,428.4 L136.5,427 L140.2,425.6 M140.2,425.6 L145,435 L145,437.6 L197,437.6" fill="none" stroke="#111" stroke-width="0.75"/>
<path d="M146,428.2 L151,428.2" fill="none" stroke="#111" stroke-width="0.85" stroke-dasharray="2,1.2"/>
<path d="M170.4,419 L170.4,425.3 L162.6,425.3 L162.6,428.4" fill="none" stroke="#111" stroke-width="0.75"/>
<path d="M165.5,428.6 L170.4,435.5 L170.4,437.6" fill="none" stroke="#111" stroke-width="0.75"/>
<path d="M164.5,428.2 L175.5,428.2" fill="none" stroke="#111" stroke-width="0.85" stroke-dasharray="2,1.2"/>
<circle cx="170.4" cy="437.6" r="1.35" fill="#000"/>
<path d="M196.6,419 L196.6,426.4" fill="none" stroke="#111" stroke-width="0.75"/>
<path d="M192.4,428.7 L196.6,435 L196.6,441.3" fill="none" stroke="#111" stroke-width="0.75"/>
<circle cx="196.6" cy="437.6" r="1.35" fill="#000"/>
<text x="204.5" y="440.1" font-size="10" text-anchor="start" font-weight="normal" fill="#000" stroke="#000" stroke-width="0.28" >E</text>
<text x="211.2" y="440.9" font-size="6.4" text-anchor="start" font-weight="normal" fill="#000" stroke="#000" stroke-width="0.28" >45</text>
<text x="212.6" y="437.18" font-size="10.5" text-anchor="start" font-weight="normal" fill="#000" stroke="#000" stroke-width="0.28" >*</text>
<line x1="91.5" y1="441.3" x2="91.5" y2="447" stroke="#000" stroke-width="0.8" stroke-linecap="butt"/>
<path d="M89.9,444.0 L91.5,446.6 L93.1,444.0" fill="none" stroke="#000" stroke-width="0.8"/>
<text x="94.5" y="447.73" font-size="6.2" text-anchor="start" font-weight="normal" fill="#000" stroke="#000" stroke-width="0.28" >T6y/6</text>
<line x1="91.5" y1="447" x2="91.5" y2="470" stroke="#000" stroke-width="3.0" stroke-linecap="butt"/>
<text x="91.5" y="476.23" font-size="6.2" text-anchor="middle" font-weight="normal" fill="#000" stroke="#000" stroke-width="0.28" >0,35</text>
<text x="91.5" y="482.88" font-size="6.0" text-anchor="middle" font-weight="normal" fill="#000" stroke="#000" stroke-width="0.3" >sw/ws</text>
<line x1="91.5" y1="486" x2="91.5" y2="499" stroke="#000" stroke-width="3.0" stroke-linecap="butt"/>
<circle cx="91.5" cy="499" r="2.3" fill="#000"/>
<line x1="196.6" y1="441.3" x2="196.6" y2="447" stroke="#000" stroke-width="0.8" stroke-linecap="butt"/>
<path d="M195.0,444.0 L196.6,446.6 L198.2,444.0" fill="none" stroke="#000" stroke-width="0.8"/>
<text x="199.6" y="447.73" font-size="6.2" text-anchor="start" font-weight="normal" fill="#000" stroke="#000" stroke-width="0.28" >T9y/4</text>
<line x1="196.6" y1="447" x2="196.6" y2="470" stroke="#000" stroke-width="3.0" stroke-linecap="butt"/>
<text x="196.6" y="476.23" font-size="6.2" text-anchor="middle" font-weight="normal" fill="#000" stroke="#000" stroke-width="0.28" >0,35</text>
<text x="196.6" y="482.88" font-size="6.0" text-anchor="middle" font-weight="normal" fill="#000" stroke="#000" stroke-width="0.3" >sw/ws</text>
<line x1="196.6" y1="486" x2="196.6" y2="499" stroke="#000" stroke-width="3.0" stroke-linecap="butt"/>
<circle cx="196.6" cy="499" r="2.3" fill="#000"/>
<line x1="38.8" y1="499" x2="196.6" y2="499" stroke="#333" stroke-width="1" stroke-linecap="butt"/>
<circle cx="143.8" cy="487.5" r="8.2" fill="#fff" stroke="#000" stroke-width="0.9"/>
<text x="143.8" y="489.88" font-size="6.6" text-anchor="middle" font-weight="normal" fill="#000" stroke="#000" stroke-width="0.28" >A16</text>
<rect x="291.2" y="420.6" width="47.8" height="19.9" fill="#d8d8d8" stroke="#8a8a8a" stroke-width="1"/>
<circle cx="316.5" cy="430.4" r="6" fill="none" stroke="#111" stroke-width="1"/>
<path d="M312.3,430.4 L316.5,430.4 L318.9,427.2 M316.5,430.4 L318.5,433.2" fill="none" stroke="#000" stroke-width="0.9"/>
<circle cx="317.0" cy="431.9" r="1.1" fill="#000"/>
<line x1="302.0" y1="440.5" x2="302.0" y2="446" stroke="#000" stroke-width="0.8" stroke-linecap="butt"/>
<path d="M300.4,443.0 L302.0,445.6 L303.6,443.0" fill="none" stroke="#000" stroke-width="0.8"/>
<text x="304.6" y="447.92" font-size="7.0" text-anchor="start" font-weight="normal" fill="#000" stroke="#000" stroke-width="0.28" >2</text>
<line x1="302.0" y1="446" x2="302.0" y2="470" stroke="#000" stroke-width="3.0" stroke-linecap="butt"/>
<text x="302.0" y="476.23" font-size="6.2" text-anchor="middle" font-weight="normal" fill="#000" stroke="#000" stroke-width="0.28" >0,5</text>
<text x="302.0" y="483.28" font-size="6.0" text-anchor="middle" font-weight="normal" fill="#000" stroke="#000" stroke-width="0.3" >br</text>
<line x1="302.0" y1="486" x2="302.0" y2="523.3" stroke="#000" stroke-width="3.0" stroke-linecap="butt"/>
<circle cx="302.0" cy="523.3" r="2.3" fill="#000"/>
<line x1="328.1" y1="446" x2="328.1" y2="470" stroke="#000" stroke-width="3.0" stroke-linecap="butt"/>
<text x="328.1" y="476.23" font-size="6.2" text-anchor="middle" font-weight="normal" fill="#000" stroke="#000" stroke-width="0.28" >0,35</text>
<text x="328.1" y="483.28" font-size="6.0" text-anchor="middle" font-weight="normal" fill="#000" stroke="#000" stroke-width="0.3" >bl/gr</text>
<line x1="328.1" y1="486" x2="328.1" y2="492.8" stroke="#000" stroke-width="3.0" stroke-linecap="butt"/>
<rect x="321.7" y="492.8" width="12.900000000000034" height="6.699999999999989" fill="#fff" stroke="#555" stroke-width="0.9"/>
<text x="328.15" y="498.63" font-size="6.6" text-anchor="middle" font-weight="normal" fill="#000" stroke="#000" stroke-width="0.3" >210</text>
<circle cx="312" cy="514.4" r="6.1" fill="#fff" stroke="#000" stroke-width="0.9"/>
<text x="312" y="516.63" font-size="6.2" text-anchor="middle" font-weight="normal" fill="#000" stroke="#000" stroke-width="0.28" >85</text>
<circle cx="347.6" cy="436.8" r="21" fill="#8cb2f0" fill-opacity="0.65" stroke="#1b2a5c" stroke-width="1.2"/>
<line x1="328.1" y1="440.5" x2="328.1" y2="446" stroke="#1b2a5c" stroke-width="0.8" stroke-linecap="butt"/>
<path d="M326.5,443 L328.1,445.6 L329.70000000000005,443" fill="none" stroke="#1b2a5c" stroke-width="0.8"/>
<text x="330.70000000000005" y="447.92" font-size="7.0" text-anchor="start" font-weight="normal" fill="#1b2a5c" stroke="#1b2a5c" stroke-width="0.28" >3</text>
<path d="M339,420.6 L339,440.5 L328,440.5" fill="none" stroke="#1b2a5c" stroke-width="1"/>
<text x="342.5" y="439.9" font-size="10" text-anchor="start" font-weight="normal" fill="#1b2a5c" stroke="#1b2a5c" stroke-width="0.28" >G</text>
<text x="350" y="440.43" font-size="6.2" text-anchor="start" font-weight="normal" fill="#1b2a5c" stroke="#1b2a5c" stroke-width="0.28" >266</text>
<line x1="24" y1="523.5" x2="399" y2="523.5" stroke="#333" stroke-width="1" stroke-linecap="butt"/>
<text x="38.8" y="532.81" font-size="6.7" text-anchor="middle" font-weight="normal" fill="#000" stroke="#000" stroke-width="0.25" >113</text>
<text x="65.1" y="532.81" font-size="6.7" text-anchor="middle" font-weight="normal" fill="#000" stroke="#000" stroke-width="0.25" >114</text>
<text x="91.5" y="532.81" font-size="6.7" text-anchor="middle" font-weight="normal" fill="#000" stroke="#000" stroke-width="0.25" >115</text>
<text x="117.8" y="532.81" font-size="6.7" text-anchor="middle" font-weight="normal" fill="#000" stroke="#000" stroke-width="0.25" >116</text>
<text x="144.0" y="532.81" font-size="6.7" text-anchor="middle" font-weight="normal" fill="#000" stroke="#000" stroke-width="0.25" >117</text>
<text x="170.4" y="532.81" font-size="6.7" text-anchor="middle" font-weight="normal" fill="#000" stroke="#000" stroke-width="0.25" >118</text>
<text x="196.6" y="532.81" font-size="6.7" text-anchor="middle" font-weight="normal" fill="#000" stroke="#000" stroke-width="0.25" >119</text>
<text x="223.1" y="532.81" font-size="6.7" text-anchor="middle" font-weight="normal" fill="#000" stroke="#000" stroke-width="0.25" >120</text>
<text x="249.4" y="532.81" font-size="6.7" text-anchor="middle" font-weight="normal" fill="#000" stroke="#000" stroke-width="0.25" >121</text>
<text x="275.6" y="532.81" font-size="6.7" text-anchor="middle" font-weight="normal" fill="#000" stroke="#000" stroke-width="0.25" >122</text>
<text x="302.0" y="532.81" font-size="6.7" text-anchor="middle" font-weight="normal" fill="#000" stroke="#000" stroke-width="0.25" >123</text>
<text x="328.1" y="532.81" font-size="6.7" text-anchor="middle" font-weight="normal" fill="#000" stroke="#000" stroke-width="0.25" >124</text>
<text x="354.4" y="532.81" font-size="6.7" text-anchor="middle" font-weight="normal" fill="#000" stroke="#000" stroke-width="0.25" >125</text>
<text x="380.7" y="532.81" font-size="6.7" text-anchor="middle" font-weight="normal" fill="#000" stroke="#000" stroke-width="0.25" >126</text>
<path d="M452.3,204.2 L457.5,199.2 L462.7,204.2" fill="none" stroke="#7d7f8c" stroke-width="3.1" stroke-linecap="butt" stroke-linejoin="miter"/>
<path d="M443.8,213.9 L437.8,218.6 L443.8,223.3" fill="none" stroke="#7d7f8c" stroke-width="3.1" stroke-linecap="butt" stroke-linejoin="miter"/>
<path d="M471.5,213.9 L477,218.6 L471.5,223.3" fill="none" stroke="#7d7f8c" stroke-width="3.1" stroke-linecap="butt" stroke-linejoin="miter"/>
<path d="M452.3,233.4 L457.5,238.6 L462.7,233.4" fill="none" stroke="#7d7f8c" stroke-width="3.1" stroke-linecap="butt" stroke-linejoin="miter"/>
<line x1="457.4" y1="268.90000000000003" x2="462.6" y2="274.1" stroke="#6b6b66" stroke-width="2.2"/>
<circle cx="455" cy="266.3" r="3.7" fill="#c9cbe0" stroke="#5d6078" stroke-width="1.4"/>
<line x1="457.4" y1="285.90000000000003" x2="462.6" y2="291.1" stroke="#6b6b66" stroke-width="2.2"/>
<circle cx="455" cy="283.3" r="3.7" fill="#c9cbe0" stroke="#5d6078" stroke-width="1.4"/>
<path d="M453,283.3 L457,283.3 M455,281.3 L455,285.3" stroke="#333" stroke-width="0.9"/>
<line x1="457.4" y1="303.0" x2="462.6" y2="308.2" stroke="#6b6b66" stroke-width="2.2"/>
<circle cx="455" cy="300.4" r="3.7" fill="#c9cbe0" stroke="#5d6078" stroke-width="1.4"/>
<path d="M453,300.4 L457,300.4" stroke="#333" stroke-width="0.9"/>
<text x="437.8" y="401.09" font-size="7.3" text-anchor="start" font-weight="normal" fill="#000" stroke="#000" stroke-width="0.1" >w s</text>
<text x="453.3" y="401.09" font-size="7.3" text-anchor="start" font-weight="normal" fill="#000" stroke="#000" stroke-width="0.35" >=</text>
<text x="460.5" y="401.09" font-size="7.3" text-anchor="start" font-weight="normal" fill="#000" stroke="#000" stroke-width="0.1" >w eiss</text>
<text x="437.8" y="410.36" font-size="7.3" text-anchor="start" font-weight="normal" fill="#000" stroke="#000" stroke-width="0.1" >sw</text>
<text x="453.3" y="410.36" font-size="7.3" text-anchor="start" font-weight="normal" fill="#000" stroke="#000" stroke-width="0.35" >=</text>
<text x="460.5" y="410.36" font-size="7.3" text-anchor="start" font-weight="normal" fill="#000" stroke="#000" stroke-width="0.1" >schw arz</text>
<text x="437.8" y="419.63" font-size="7.3" text-anchor="start" font-weight="normal" fill="#000" stroke="#000" stroke-width="0.1" >ro</text>
<text x="453.3" y="419.63" font-size="7.3" text-anchor="start" font-weight="normal" fill="#000" stroke="#000" stroke-width="0.35" >=</text>
<text x="460.5" y="419.63" font-size="7.3" text-anchor="start" font-weight="normal" fill="#000" stroke="#000" stroke-width="0.1" >rot</text>
<text x="437.8" y="428.9" font-size="7.3" text-anchor="start" font-weight="normal" fill="#000" stroke="#000" stroke-width="0.1" >br</text>
<text x="453.3" y="428.9" font-size="7.3" text-anchor="start" font-weight="normal" fill="#000" stroke="#000" stroke-width="0.35" >=</text>
<text x="460.5" y="428.9" font-size="7.3" text-anchor="start" font-weight="normal" fill="#000" stroke="#000" stroke-width="0.1" >braun</text>
<text x="437.8" y="438.17" font-size="7.3" text-anchor="start" font-weight="normal" fill="#000" stroke="#000" stroke-width="0.1" >gn</text>
<text x="453.3" y="438.17" font-size="7.3" text-anchor="start" font-weight="normal" fill="#000" stroke="#000" stroke-width="0.35" >=</text>
<text x="460.5" y="438.17" font-size="7.3" text-anchor="start" font-weight="normal" fill="#000" stroke="#000" stroke-width="0.1" >grün</text>
<text x="437.8" y="447.44" font-size="7.3" text-anchor="start" font-weight="normal" fill="#000" stroke="#000" stroke-width="0.1" >bl</text>
<text x="453.3" y="447.44" font-size="7.3" text-anchor="start" font-weight="normal" fill="#000" stroke="#000" stroke-width="0.35" >=</text>
<text x="460.5" y="447.44" font-size="7.3" text-anchor="start" font-weight="normal" fill="#000" stroke="#000" stroke-width="0.1" >blau</text>
<text x="437.8" y="456.71" font-size="7.3" text-anchor="start" font-weight="normal" fill="#000" stroke="#000" stroke-width="0.1" >gr</text>
<text x="453.3" y="456.71" font-size="7.3" text-anchor="start" font-weight="normal" fill="#000" stroke="#000" stroke-width="0.35" >=</text>
<text x="460.5" y="456.71" font-size="7.3" text-anchor="start" font-weight="normal" fill="#000" stroke="#000" stroke-width="0.1" >grau</text>
<text x="437.8" y="465.98" font-size="7.3" text-anchor="start" font-weight="normal" fill="#000" stroke="#000" stroke-width="0.1" >li</text>
<text x="453.3" y="465.98" font-size="7.3" text-anchor="start" font-weight="normal" fill="#000" stroke="#000" stroke-width="0.35" >=</text>
<text x="460.5" y="465.98" font-size="7.3" text-anchor="start" font-weight="normal" fill="#000" stroke="#000" stroke-width="0.1" >lila</text>
<text x="437.8" y="475.25" font-size="7.3" text-anchor="start" font-weight="normal" fill="#000" stroke="#000" stroke-width="0.1" >ge</text>
<text x="453.3" y="475.25" font-size="7.3" text-anchor="start" font-weight="normal" fill="#000" stroke="#000" stroke-width="0.35" >=</text>
<text x="460.5" y="475.25" font-size="7.3" text-anchor="start" font-weight="normal" fill="#000" stroke="#000" stroke-width="0.1" >gelb</text>
<text x="437.8" y="484.52" font-size="7.3" text-anchor="start" font-weight="normal" fill="#000" stroke="#000" stroke-width="0.1" >or</text>
<text x="453.3" y="484.52" font-size="7.3" text-anchor="start" font-weight="normal" fill="#000" stroke="#000" stroke-width="0.35" >=</text>
<text x="460.5" y="484.52" font-size="7.3" text-anchor="start" font-weight="normal" fill="#000" stroke="#000" stroke-width="0.1" >orange</text>
<text x="437.8" y="493.79" font-size="7.3" text-anchor="start" font-weight="normal" fill="#000" stroke="#000" stroke-width="0.1" >rs</text>
<text x="453.3" y="493.79" font-size="7.3" text-anchor="start" font-weight="normal" fill="#000" stroke="#000" stroke-width="0.35" >=</text>
<text x="460.5" y="493.79" font-size="7.3" text-anchor="start" font-weight="normal" fill="#000" stroke="#000" stroke-width="0.1" >rosa</text>
<text x="556.2" y="11.2" font-size="8.7" text-anchor="start" font-weight="bold" fill="#000" textLength="465" lengthAdjust="spacingAndGlyphs">Steuergerät für Dieseldirekteinspritzanlage, Schalter für Geschwindigkeitsregelanlage, Geber für Kraftstoffdruck</text>
<text x="556.2" y="21.8" font-size="8.5" text-anchor="start" font-weight="normal" fill="#000" stroke="#000" stroke-width="0.12" >D</text>
<text x="586.5" y="21.8" font-size="8.5" text-anchor="start" font-weight="normal" fill="#000" stroke="#000" stroke-width="0.12" >-</text>
<text x="594.4" y="21.8" font-size="8.5" text-anchor="start" font-weight="normal" fill="#000" stroke="#000" stroke-width="0.12" >Zündanlaßschalter</text>
<text x="556.2" y="32.93" font-size="8.5" text-anchor="start" font-weight="normal" fill="#000" stroke="#000" stroke-width="0.12" >E45</text>
<text x="586.5" y="32.93" font-size="8.5" text-anchor="start" font-weight="normal" fill="#000" stroke="#000" stroke-width="0.12" >-</text>
<text x="594.4" y="32.93" font-size="8.5" text-anchor="start" font-weight="normal" fill="#000" stroke="#000" stroke-width="0.12" >Schalter für GRA</text>
<text x="556.2" y="44.06" font-size="8.5" text-anchor="start" font-weight="normal" fill="#000" stroke="#000" stroke-width="0.12" >G247</text>
<text x="586.5" y="44.06" font-size="8.5" text-anchor="start" font-weight="normal" fill="#000" stroke="#000" stroke-width="0.12" >-</text>
<text x="594.4" y="44.06" font-size="8.5" text-anchor="start" font-weight="normal" fill="#000" stroke="#000" stroke-width="0.12" >Geber für Kraftstoffdruck</text>
<rect x="555" y="46.9" width="31" height="10.9" fill="#4f82ee" stroke="none" stroke-width="1"/>
<text x="556.2" y="55.19" font-size="8.5" text-anchor="start" font-weight="normal" fill="#10205a" stroke="#10205a" stroke-width="0.12" >G266</text>
<text x="586.5" y="55.19" font-size="8.5" text-anchor="start" font-weight="normal" fill="#000" stroke="#000" stroke-width="0.12" >-</text>
<text x="594.4" y="55.19" font-size="8.5" text-anchor="start" font-weight="normal" fill="#000" stroke="#000" stroke-width="0.12" >Thermogeber für Ölstand</text>
<text x="556.2" y="66.32000000000001" font-size="8.5" text-anchor="start" font-weight="normal" fill="#000" stroke="#000" stroke-width="0.12" >J248</text>
<text x="586.5" y="66.32000000000001" font-size="8.5" text-anchor="start" font-weight="normal" fill="#000" stroke="#000" stroke-width="0.12" >-</text>
<text x="594.4" y="66.32000000000001" font-size="8.5" text-anchor="start" font-weight="normal" fill="#000" stroke="#000" stroke-width="0.12" >Steuergerät für Dieseldirekteinspritzanlage</text>
<text x="556.2" y="77.45" font-size="8.5" text-anchor="start" font-weight="normal" fill="#000" stroke="#000" stroke-width="0.12" >S6</text>
<text x="586.5" y="77.45" font-size="8.5" text-anchor="start" font-weight="normal" fill="#000" stroke="#000" stroke-width="0.12" >-</text>
<text x="594.4" y="77.45" font-size="8.5" text-anchor="start" font-weight="normal" fill="#000" stroke="#000" stroke-width="0.12" >Sicherung im Sicherungsträger</text>
<text x="556.2" y="88.58" font-size="8.5" text-anchor="start" font-weight="normal" fill="#000" stroke="#000" stroke-width="0.12" >S8</text>
<text x="586.5" y="88.58" font-size="8.5" text-anchor="start" font-weight="normal" fill="#000" stroke="#000" stroke-width="0.12" >-</text>
<text x="594.4" y="88.58" font-size="8.5" text-anchor="start" font-weight="normal" fill="#000" stroke="#000" stroke-width="0.12" >Sicherung im Sicherungsträger</text>
<text x="556.2" y="99.71000000000001" font-size="8.5" text-anchor="start" font-weight="normal" fill="#000" stroke="#000" stroke-width="0.12" >T6y</text>
<text x="586.5" y="99.71000000000001" font-size="8.5" text-anchor="start" font-weight="normal" fill="#000" stroke="#000" stroke-width="0.12" >-</text>
<text x="594.4" y="99.71000000000001" font-size="8.5" text-anchor="start" font-weight="normal" fill="#000" stroke="#000" stroke-width="0.12" >Steckverbindung, 6-fach, schwarz, hinter Verkleidung für Lenkstockschalter</text>
<text x="556.2" y="110.84" font-size="8.5" text-anchor="start" font-weight="normal" fill="#000" stroke="#000" stroke-width="0.12" >T10a</text>
<text x="586.5" y="110.84" font-size="8.5" text-anchor="start" font-weight="normal" fill="#000" stroke="#000" stroke-width="0.12" >-</text>
<text x="594.4" y="110.84" font-size="8.5" text-anchor="start" font-weight="normal" fill="#000" stroke="#000" stroke-width="0.12" >Steckverbindung, 10-fach, schwarz, Kupplungsstation E-Box Wasserkasten</text>
<circle cx="565.6" cy="124.0" r="10" fill="#fff" stroke="#111" stroke-width="1.2"/>
<text x="564.6" y="126.52" font-size="7.0" text-anchor="middle" font-weight="normal" fill="#000" stroke="#000" stroke-width="0.12" >85</text>
<text x="586.5" y="123.05" font-size="8.5" text-anchor="start" font-weight="normal" fill="#000" stroke="#000" stroke-width="0.12" >-</text>
<text x="594.4" y="122.41" font-size="8.5" text-anchor="start" font-weight="normal" fill="#000" stroke="#000" stroke-width="0.12" >Masseverbindung -1-, im Leitungsstrang Motorraum</text>
<circle cx="565.6" cy="147.5" r="10" fill="#fff" stroke="#111" stroke-width="1.2"/>
<text x="564.6" y="150.02" font-size="7.0" text-anchor="middle" font-weight="normal" fill="#000" stroke="#000" stroke-width="0.12" >A2</text>
<text x="586.5" y="145.55" font-size="8.5" text-anchor="start" font-weight="normal" fill="#000" stroke="#000" stroke-width="0.12" >-</text>
<text x="594.4" y="144.91" font-size="8.5" text-anchor="start" font-weight="normal" fill="#000" stroke="#000" stroke-width="0.12" >Plusverbindung (15), im Schalttafelleitungsstrang</text>
<circle cx="565.6" cy="170.1" r="10" fill="#fff" stroke="#111" stroke-width="1.2"/>
<text x="564.6" y="172.62" font-size="7.0" text-anchor="middle" font-weight="normal" fill="#000" stroke="#000" stroke-width="0.12" >A16</text>
<text x="586.5" y="169.55" font-size="8.5" text-anchor="start" font-weight="normal" fill="#000" stroke="#000" stroke-width="0.12" >-</text>
<text x="594.4" y="168.91" font-size="8.5" text-anchor="start" font-weight="normal" fill="#000" stroke="#000" stroke-width="0.12" >Verbindung (GRA), im Schalttafelleitungsstrang</text>
<circle cx="565.6" cy="193.0" r="10" fill="#fff" stroke="#111" stroke-width="1.2"/>
<text x="564.6" y="195.52" font-size="7.0" text-anchor="middle" font-weight="normal" fill="#000" stroke="#000" stroke-width="0.12" >A74</text>
<text x="586.5" y="192.55" font-size="8.5" text-anchor="start" font-weight="normal" fill="#000" stroke="#000" stroke-width="0.12" >-</text>
<text x="594.4" y="191.91" font-size="8.5" text-anchor="start" font-weight="normal" fill="#000" stroke="#000" stroke-width="0.12" >Verbindung (15a, Sicherung 6), im Schalttafelleitungsstrang</text>
<circle cx="565.6" cy="216.3" r="10" fill="#fff" stroke="#111" stroke-width="1.2"/>
<text x="564.6" y="218.82" font-size="7.0" text-anchor="middle" font-weight="normal" fill="#000" stroke="#000" stroke-width="0.12" >D51</text>
<text x="586.5" y="215.35" font-size="8.5" text-anchor="start" font-weight="normal" fill="#000" stroke="#000" stroke-width="0.12" >-</text>
<text x="594.4" y="214.71" font-size="8.5" text-anchor="start" font-weight="normal" fill="#000" stroke="#000" stroke-width="0.12" >Plusverbindung -1- (15), im Leitungsstrang Motorraum</text>
<circle cx="565.6" cy="239.2" r="10" fill="#fff" stroke="#111" stroke-width="1.2"/>
<text x="564.6" y="241.72" font-size="7.0" text-anchor="middle" font-weight="normal" fill="#000" stroke="#000" stroke-width="0.12" >D52</text>
<text x="586.5" y="237.85" font-size="8.5" text-anchor="start" font-weight="normal" fill="#000" stroke="#000" stroke-width="0.12" >-</text>
<text x="594.4" y="237.21" font-size="8.5" text-anchor="start" font-weight="normal" fill="#000" stroke="#000" stroke-width="0.12" >Plusverbindung (15a), im Leitungsstrang Motorraum</text>
<text x="556.5" y="257.56" font-size="6" text-anchor="start" font-weight="normal" fill="#000" stroke="#000" stroke-width="0.28" >*</text>
<text x="586.5" y="261.05" font-size="8.5" text-anchor="start" font-weight="normal" fill="#000" >-</text>
<text x="594.4" y="261.11" font-size="8.5" text-anchor="start" font-weight="normal" fill="#000" stroke="#000" stroke-width="0.12" >Fahrzeuge mit Geschwindigkeitsregelanlage</text>
</svg>
</body></html>
